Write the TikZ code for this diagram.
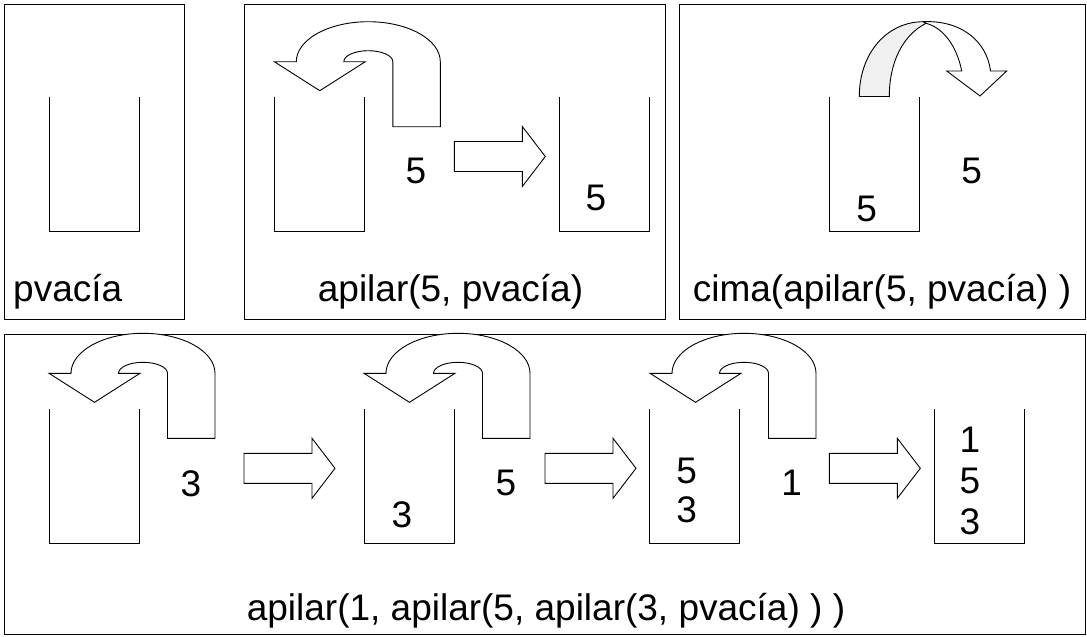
\documentclass[tikz,border=0pt]{standalone}
\usepackage{fontspec}
\setmainfont{Liberation Sans}
\begin{document}
\begin{tikzpicture}[x=1pt,y=-1pt,
  panel/.style={draw, line width=1pt},
  cupline/.style={line width=1pt},
  shapeline/.style={draw, line width=0.9pt, fill=white, line join=miter},
  num/.style={inner sep=0pt, font=\fontsize{37}{44}\selectfont},
  caption/.style={inner sep=0pt, anchor=base, font=\fontsize{37}{44}\selectfont},
  cup/.pic={\draw[cupline] (0,0) -- (0,134.5) -- (90,134.5) -- (90,0);},
  uturn/.pic={\draw[shapeline] (0,0) -- (22,0)
      .. controls (22,-22.1) and (54.2,-40) .. (94,-40)
      .. controls (133.8,-40) and (166,-22.1) .. (166,0)
      -- (166,65) -- (118.5,65) -- (118.5,0)
      .. controls (118.5,-6.1) and (107.5,-11) .. (94,-11)
      .. controls (80.5,-11) and (69.5,-6.1) .. (69.5,0)
      -- (91,0) -- (45.5,29) -- cycle;},
  blockarrow/.pic={\draw[shapeline] (0,-15) -- (68,-15) -- (68,-30) -- (91,0)
      -- (68,30) -- (68,15) -- (0,15) -- cycle;}
]
\useasboundingbox (0,0) rectangle (1087,637);

% panels
\draw[panel] (4,4) rectangle (184.3,319);
\draw[panel] (244,4) rectangle (665,319.3);
\draw[panel] (679.3,4) rectangle (1085,319.3);
\draw[panel] (4,334.5) rectangle (1085,634);

% panel 1
\pic (c1) at (49.3,96.7) {cup};
\node[caption, anchor=base west] (t1) at (13,301.5) {pvacía};

% panel 2
\pic (c2a) at (274.3,96.7) {cup};
\pic (c2b) at (559.3,96.7) {cup};
\pic (u2) at (274.3,61.7) {uturn};
\pic (a2) at (454.3,156.5) {blockarrow};
\node[num] (n2a) at (416,171) {5};
\node[num] (n2b) at (596,198) {5};
\node[caption] (t2) at (450.5,301.5) {apilar(5, pvacía)};

% panel 3
\pic (c3) at (829.3,96.7) {cup};
\draw[shapeline, fill=gray!12] (859.3,96.5)
   .. controls (859.3,52) and (888,21.7) .. (923.3,21.7)
   -- (926,23.3)
   .. controls (903,35) and (889.3,62) .. (889.3,96.5) -- cycle;
\draw[shapeline] (923.3,21.7)
   .. controls (962,20) and (987,42) .. (990.5,71)
   -- (1006.7,71) -- (980,96) -- (946.7,71) -- (961.7,71)
   .. controls (957,47) and (944,28) .. (926,23.3) -- cycle;
\node[num] (n3a) at (866.7,209) {5};
\node[num] (n3b) at (971.7,171) {5};
\node[caption] (t3) at (882,301.5) {cima(apilar(5, pvacía) )};

% panel 4
\pic (c4a) at (49,409) {cup};
\pic (c4b) at (364,409) {cup};
\pic (c4c) at (649.3,409) {cup};
\pic (c4d) at (934.7,409) {cup};
\pic (u4a) at (49,373.3) {uturn};
\pic (u4b) at (364,373.3) {uturn};
\pic (u4c) at (650,373.3) {uturn};
\pic (a4a) at (244,468.3) {blockarrow};
\pic (a4b) at (545,468.3) {blockarrow};
\pic (a4c) at (829.3,468.3) {blockarrow};
\node[num] (n4a) at (191,483.3) {3};
\node[num] (n4b) at (402,515) {3};
\node[num] (n4c) at (506,483) {5};
\node[num] (n4d) at (686.7,470.5) {5};
\node[num] (n4e) at (686.7,509.5) {3};
\node[num] (n4f) at (791.7,483) {1};
\node[num] (n4g) at (970,439.5) {1};
\node[num] (n4h) at (970,481) {5};
\node[num] (n4i) at (970,521.5) {3};
\node[caption] (t4) at (546,620) {apilar(1, apilar(5, apilar(3, pvacía) ) )};
\end{tikzpicture}
\end{document}
